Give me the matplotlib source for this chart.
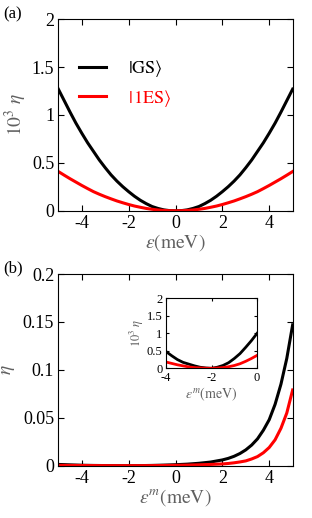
import matplotlib
matplotlib.use('Agg')
from matplotlib import pyplot as plt
from matplotlib.ticker import FuncFormatter

plt.rcParams['font.family'] = ['Liberation Serif', 'DejaVu Serif']
plt.rcParams['mathtext.fontset'] = 'stix'

# panel (a): 10^3 eta vs detuning
eps_a = [-5, -4.75, -4.5, -4.25, -4, -3.75, -3.5, -3.25, -3, -2.75, -2.5, -2.25, -2,
         -1.75, -1.5, -1.25, -1, -0.75, -0.5, -0.25, 0,
         0.25, 0.5, 0.75, 1, 1.25, 1.5, 1.75, 2, 2.25, 2.5, 2.75, 3,
         3.25, 3.5, 3.75, 4, 4.25, 4.5, 4.75, 5]
gs_a = [1.27, 1.15, 1.03, 0.915, 0.81, 0.71, 0.62, 0.53, 0.45, 0.375, 0.31, 0.252, 0.20,
        0.152, 0.11, 0.075, 0.045, 0.025, 0.01, 0.002, 0.0,
        0.002, 0.01, 0.025, 0.045, 0.075, 0.11, 0.152, 0.20, 0.252, 0.31, 0.375, 0.45,
        0.53, 0.62, 0.71, 0.81, 0.915, 1.03, 1.15, 1.27]
es_a = [0.41, 0.372, 0.335, 0.30, 0.265, 0.232, 0.20, 0.173, 0.148, 0.125, 0.103, 0.084, 0.066,
        0.05, 0.037, 0.025, 0.016, 0.009, 0.004, 0.001, 0.0,
        0.001, 0.004, 0.009, 0.016, 0.025, 0.037, 0.05, 0.066, 0.084, 0.103, 0.125, 0.148,
        0.173, 0.20, 0.232, 0.265, 0.30, 0.335, 0.372, 0.41]

# panel (b): eta vs eps^m
eps_b = [-5, -4.5, -4, -3.5, -3, -2.5, -2, -1.5, -1, -0.5, 0,
         0.5, 1, 1.5, 2, 2.25, 2.5, 2.75, 3, 3.25, 3.5, 3.75, 4, 4.25, 4.5, 4.75, 5]
gs_b = [1.3e-3, 0.85e-3, 0.48e-3, 0.25e-3, 0.12e-3, 0.03e-3, 0.0, 0.08e-3, 0.28e-3, 0.6e-3, 1.0e-3,
        1.6e-3, 2.5e-3, 3.8e-3, 6.0e-3, 7.6e-3, 9.8e-3, 12.7e-3, 16.5e-3, 21.5e-3, 28e-3,
        37e-3, 48e-3, 64e-3, 85e-3, 112e-3, 147e-3]
es_b = [0.35e-3, 0.25e-3, 0.18e-3, 0.1e-3, 0.04e-3, 0.01e-3, 0.0, 0.02e-3, 0.08e-3, 0.2e-3, 0.37e-3,
        0.6e-3, 0.9e-3, 1.3e-3, 1.8e-3, 2.3e-3, 3e-3, 3.9e-3, 5e-3, 7e-3, 9.5e-3,
        13.5e-3, 19e-3, 27e-3, 39e-3, 55e-3, 79e-3]

# inset: 10^3 eta on [-4, 0]
eps_in = [-4, -3.75, -3.5, -3.25, -3, -2.75, -2.5, -2.25, -2, -1.75, -1.5, -1.25, -1, -0.75, -0.5, -0.25, 0]
gs_in = [0.48, 0.36, 0.25, 0.17, 0.12, 0.07, 0.03, 0.01, 0.0, 0.03, 0.08, 0.16, 0.28, 0.42, 0.6, 0.79, 1.0]
es_in = [0.18, 0.14, 0.1, 0.07, 0.04, 0.02, 0.01, 0.002, 0.0, 0.008, 0.02, 0.045, 0.08, 0.13, 0.2, 0.28, 0.37]

labelgray = '#606060'
fmt = FuncFormatter(lambda v, p: '%g' % v)


def style(ax, size):
    ax.tick_params(direction='in', top=True, right=True, length=4,
                   labelsize=size, pad=3)
    ax.xaxis.set_major_formatter(fmt)
    ax.yaxis.set_major_formatter(fmt)


fig = plt.figure(figsize=(3.12, 5.18), dpi=100)

ax1 = fig.add_axes([0.187, 0.593, 0.751, 0.370])
ax1.plot(eps_a, gs_a, color='black', lw=2.2, label=r'$|\mathrm{GS}\rangle$')
ax1.plot(eps_a, es_a, color='red', lw=2.2, label=r'$|\,1\mathrm{ES}\rangle$')
ax1.set_xlim(-5, 5)
ax1.set_ylim(0, 2)
ax1.set_xticks([-4, -2, 0, 2, 4])
ax1.set_yticks([0, 0.5, 1, 1.5, 2])
style(ax1, 13)
ax1.set_xlabel(r'$\varepsilon(\mathrm{meV})$', fontsize=14, color=labelgray, labelpad=0)
ax1.set_ylabel(r'$10^3\ \eta$', fontsize=14, color=labelgray, labelpad=2)
leg = ax1.legend(loc='upper left', bbox_to_anchor=(0.02, 0.88), frameon=False,
                 fontsize=13, handlelength=1.5, handletextpad=1.2, labelspacing=0.45)
for t, c in zip(leg.get_texts(), ['black', 'red']):
    t.set_color(c)
fig.text(0.01, 0.972, '(a)', fontsize=12, va='center')

ax2 = fig.add_axes([0.187, 0.101, 0.751, 0.370])
ax2.plot(eps_b, gs_b, color='black', lw=2.2)
ax2.plot(eps_b, es_b, color='red', lw=2.2)
ax2.set_xlim(-5, 5)
ax2.set_ylim(0, 0.2)
ax2.set_xticks([-4, -2, 0, 2, 4])
ax2.set_yticks([0, 0.05, 0.1, 0.15, 0.2])
style(ax2, 13)
ax2.set_xlabel(r'$\varepsilon^m(\mathrm{meV})$', fontsize=14, color=labelgray, labelpad=0)
ax2.set_ylabel(r'$\eta$', fontsize=14, color=labelgray, labelpad=4)
fig.text(0.01, 0.482, '(b)', fontsize=12, va='center')

ins = fig.add_axes([0.532, 0.289, 0.292, 0.135])
ins.plot(eps_in, gs_in, color='black', lw=2)
ins.plot(eps_in, es_in, color='red', lw=2)
ins.set_xlim(-4, 0)
ins.set_ylim(0, 2)
ins.set_xticks([-4, -2, 0])
ins.set_yticks([0, 0.5, 1, 1.5, 2])
style(ins, 9)
ins.tick_params(axis='x', length=2.5, pad=3)
ins.tick_params(axis='y', length=2.5, pad=2.5)
ins.set_xlabel(r'$\varepsilon^m(\mathrm{meV})$', fontsize=10, color=labelgray, labelpad=1)
ins.set_ylabel(r'$10^3\ \eta$', fontsize=9, color=labelgray, labelpad=0.5)

fig.savefig('out.png', dpi=100)
